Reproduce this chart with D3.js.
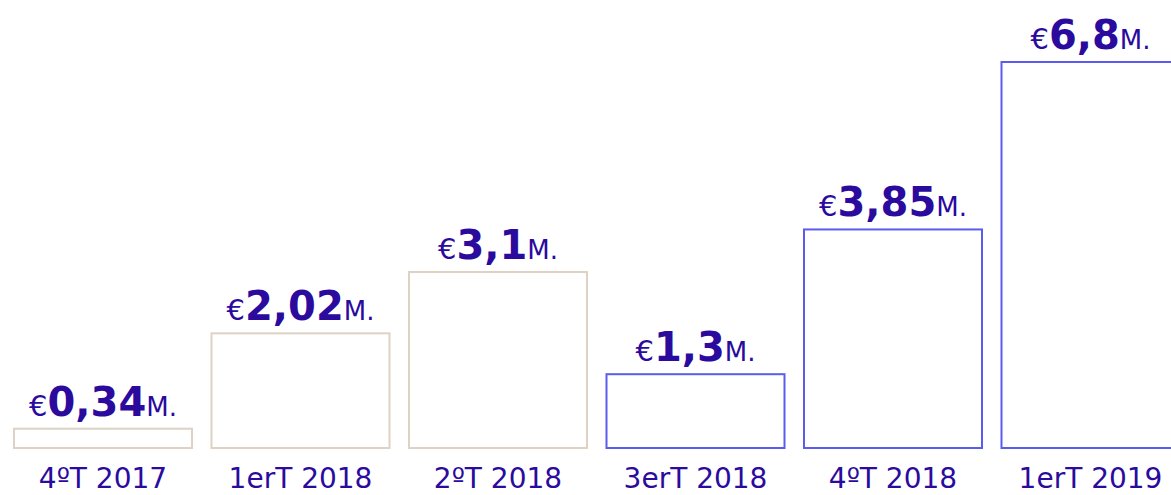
<!DOCTYPE html>
<html>
<head>
<meta charset="utf-8">
<script src="https://cdn.jsdelivr.net/npm/d3@7"></script>
<style>
html,body{margin:0;padding:0;background:#fff;}
svg{display:block;}
</style>
</head>
<body>
<script>
const categories = ["4ºT 2017", "1erT 2018", "2ºT 2018", "3erT 2018", "4ºT 2018", "1erT 2019"];
const values = [0.34, 2.02, 3.1, 1.3, 3.85, 6.8];
const valueLabels = ["0,34", "2,02", "3,1", "1,3", "3,85", "6,8"];
const groups = ["a", "a", "a", "b", "b", "b"];

const W = 1171, H = 495;
const svg = d3.select("body").append("svg").attr("width", W).attr("height", H);

const x = d3.scaleBand().domain(categories).range([14, 1179.5]).paddingInner(0.0987).paddingOuter(0);
const y = d3.scaleLinear().domain([0, 6.8]).range([448, 62]);
const stroke = d3.scaleOrdinal().domain(["a", "b"]).range(["#ddd2c3", "#5b5bef"]);
const textColor = "#2b0a9e";
const font = "'DejaVu Sans', sans-serif";

const data = categories.map((c, i) => ({c, v: values[i], lab: valueLabels[i], g: groups[i]}));

svg.selectAll("rect.bar").data(data).enter().append("rect")
  .attr("class", "bar")
  .attr("x", d => x(d.c))
  .attr("y", d => y(d.v))
  .attr("width", x.bandwidth())
  .attr("height", d => y(0) - y(d.v))
  .attr("fill", "none")
  .attr("stroke", d => stroke(d.g))
  .attr("stroke-width", 2);

const lab = svg.selectAll("text.val").data(data).enter().append("text")
  .attr("class", "val")
  .attr("x", d => x(d.c) + x.bandwidth() / 2)
  .attr("y", d => y(d.v) - 13)
  .attr("text-anchor", "middle")
  .attr("fill", textColor)
  .style("font-family", font);
lab.append("tspan").text("€").style("font-size", "29px");
lab.append("tspan").text(d => d.lab).style("font-size", "40px").style("font-weight", "bold");
lab.append("tspan").text("M.").style("font-size", "26px");

const xAxis = d3.axisBottom(x).tickSize(0).tickPadding(0);
const gx = svg.append("g").attr("transform", "translate(0,468)").call(xAxis);
gx.select(".domain").remove();
gx.selectAll("text")
  .attr("dy", "0.71em")
  .attr("fill", textColor)
  .style("font-family", font)
  .style("font-size", "28px");
</script>
</body>
</html>
